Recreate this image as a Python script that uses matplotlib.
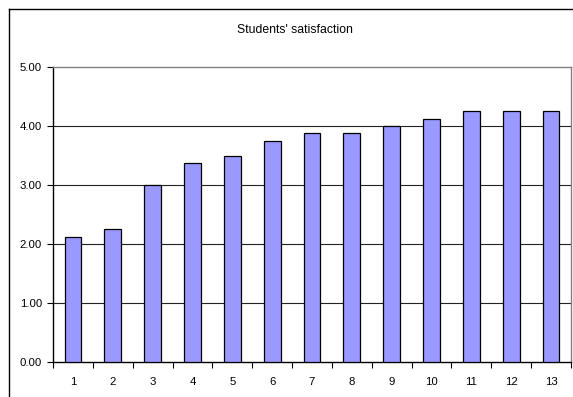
import matplotlib
matplotlib.use("Agg")
import matplotlib.pyplot as plt
from matplotlib.lines import Line2D
import numpy as np

plt.rcParams['font.family'] = ['Liberation Sans', 'DejaVu Sans']

categories = ["1", "2", "3", "4", "5", "6", "7", "8", "9", "10", "11", "12", "13"]
satisfaction = [2.125, 2.25, 3.0, 3.375, 3.5, 3.75, 3.875, 3.875, 4.0, 4.125, 4.25, 4.25, 4.25]
y_ticks = [0.0, 1.0, 2.0, 3.0, 4.0, 5.0]
title = "Students' satisfaction"

W, H = 573, 397
fig = plt.figure(figsize=(W / 100, H / 100), dpi=100)
fig.patch.set_facecolor("white")

# plot area in pixel terms
left, right, top, bottom = 53, 571, 67, 362
ax = fig.add_axes([left / W, 1 - bottom / H, (right - left) / W, (bottom - top) / H])

x = np.arange(len(categories))
ax.bar(x, satisfaction, width=0.42, color="#9999FF", edgecolor="black",
       linewidth=0.9, zorder=3)

ax.set_xlim(-0.5, len(categories) - 0.5)
ax.set_ylim(0, 5)

# horizontal gridlines
for v in y_ticks[1:-1]:
    ax.axhline(v, color="#222222", linewidth=0.8, zorder=1)

ax.set_yticks(y_ticks)
ax.set_yticklabels([f"{v:.2f}" for v in y_ticks])
ax.set_xticks(x)
ax.set_xticklabels(categories)
ax.set_xticks(np.arange(len(categories) + 1) - 0.5, minor=True)

ax.tick_params(axis="y", direction="out", length=4, width=0.8, pad=4,
               labelsize=8.2, colors="black")
ax.tick_params(axis="x", which="major", length=0, pad=11, labelsize=8.2)
ax.tick_params(axis="x", which="minor", direction="out", length=4, width=0.8)

for side in ("left", "bottom"):
    ax.spines[side].set_color("black")
    ax.spines[side].set_linewidth(1.0)
for side in ("top", "right"):
    ax.spines[side].set_color("#808080")
    ax.spines[side].set_linewidth(1.0)

# chart frame (top and left edges)
fig.add_artist(Line2D([9 / W, 1.0], [1 - 9 / H, 1 - 9 / H], color="black",
                      linewidth=1.0, transform=fig.transFigure))
fig.add_artist(Line2D([9 / W, 9 / W], [0.0, 1 - 9 / H], color="black",
                      linewidth=1.0, transform=fig.transFigure))

fig.text(295 / W, 1 - 30 / H, title, ha="center", va="center", fontsize=8.8)

fig.savefig("out.png", dpi=100, facecolor="white")
